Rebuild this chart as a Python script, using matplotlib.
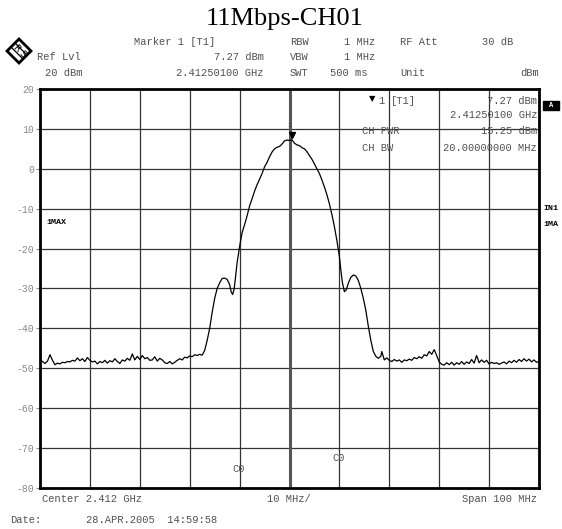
import matplotlib
matplotlib.use('Agg')
import matplotlib.pyplot as plt
import matplotlib.patches as mpatches

W, H = 562, 529

# trace: offset from centre (MHz) and level (dBm)
left_f = [-50.0, -49.5, -49.0, -48.5, -48.0, -47.5, -47.0, -46.5, -46.0, -45.5,
          -45.0, -44.5, -44.0, -43.5, -43.0, -42.5, -42.0, -41.5, -41.0, -40.5,
          -40.0, -39.5, -39.0, -38.5, -38.0, -37.5, -37.0, -36.5, -36.0, -35.5,
          -35.0, -34.5, -34.0, -33.5, -33.0, -32.5, -32.0, -31.5, -31.0, -30.5,
          -30.0, -29.5, -29.0, -28.5, -28.0, -27.5, -27.0, -26.5, -26.0, -25.5,
          -25.0, -24.5, -24.0, -23.5, -23.0, -22.5, -22.0, -21.5, -21.0, -20.5,
          -20.0, -19.5, -19.0, -18.5, -18.0, -17.5]
left_db = [-47.9, -48.3, -48.8, -48.2, -46.6, -48.0, -49.1, -48.7, -48.9, -48.5,
           -48.6, -48.3, -48.4, -48.0, -48.2, -47.4, -48.1, -47.6, -48.3, -47.3,
           -48.0, -48.4, -48.2, -48.9, -48.3, -48.6, -48.0, -48.7, -48.1, -48.4,
           -47.6, -48.3, -48.8, -47.9, -48.2, -47.5, -48.0, -46.4, -47.9, -47.0,
           -47.8, -46.8, -47.6, -47.3, -48.0, -47.9, -47.1, -48.2, -47.5, -47.9,
           -48.6, -48.8, -48.3, -48.9, -48.5, -48.0, -47.6, -47.9, -47.2, -47.4,
           -46.9, -47.1, -46.6, -46.8, -46.5, -46.7]

main_f = [-17.0, -16.5, -16.0, -15.5, -15.0, -14.5, -14.0, -13.5, -13.0, -12.5,
          -12.0, -11.7, -11.4, -11.1, -10.8, -10.5, -10.0, -9.5, -9.0, -8.5,
          -8.0, -7.5, -7.0, -6.5, -6.0, -5.5, -5.0, -4.5, -4.0, -3.5,
          -3.0, -2.5, -2.0, -1.5, -1.0, -0.5, 0.0, 0.5, 1.0, 1.5,
          2.0, 2.5, 3.0, 3.5, 4.0, 4.5, 5.0, 5.5, 6.0, 6.5,
          7.0, 7.5, 8.0, 8.5, 9.0, 9.5, 10.0, 10.3, 10.6, 11.0,
          11.4, 11.8, 12.3, 12.8, 13.3, 13.8, 14.3, 14.8, 15.3, 15.8,
          16.3, 16.8, 17.3, 17.8, 18.3]
main_db = [-45.5, -43.0, -40.0, -36.0, -32.5, -30.0, -28.6, -27.5, -27.4, -27.7,
           -29.0, -30.8, -31.5, -30.2, -27.0, -23.5, -19.5, -16.0, -14.0, -11.8,
           -9.3, -7.5, -5.6, -4.0, -2.6, -1.2, 0.5, 1.6, 3.0, 4.2,
           5.0, 5.4, 5.6, 6.2, 7.0, 7.2, 7.1, 7.27, 6.4, 6.0,
           5.8, 5.3, 5.0, 4.3, 3.3, 2.4, 1.2, 0.0, -1.2, -2.8,
           -4.6, -6.5, -8.8, -11.5, -14.5, -18.0, -22.0, -25.5, -28.5, -30.8,
           -30.3, -28.6, -27.2, -26.6, -26.9, -28.0, -30.0, -32.5, -35.5, -39.5,
           -43.0, -45.8, -47.0, -47.5, -47.0]

right_f = [18.5, 19.0, 19.5, 20.0, 20.5, 21.0, 21.5, 22.0, 22.5, 23.0,
           23.5, 24.0, 24.5, 25.0, 25.5, 26.0, 26.5, 27.0, 27.5, 28.0,
           28.5, 29.0, 29.5, 30.0, 30.5, 31.0, 31.5, 32.0, 32.5, 33.0,
           33.5, 34.0, 34.5, 35.0, 35.5, 36.0, 36.5, 37.0, 37.5, 38.0,
           38.5, 39.0, 39.5, 40.0, 40.5, 41.0, 41.5, 42.0, 42.5, 43.0,
           43.5, 44.0, 44.5, 45.0, 45.5, 46.0, 46.5, 47.0, 47.5, 48.0,
           48.5, 49.0, 49.5, 50.0]
right_db = [-45.8, -47.9, -47.4, -48.0, -48.3, -47.8, -48.2, -47.9, -48.5, -47.9,
            -48.1, -47.7, -48.0, -47.3, -47.6, -47.1, -47.5, -46.6, -46.9, -45.8,
            -46.5, -45.3, -46.8, -48.4, -49.0, -49.2, -48.6, -49.1, -48.5, -49.2,
            -48.6, -49.0, -48.3, -49.0, -48.4, -48.8, -47.8, -48.7, -46.8, -48.6,
            -47.9, -48.5, -48.0, -48.9, -48.5, -48.8, -48.6, -49.0, -48.7, -48.4,
            -48.9, -48.2, -48.6, -48.0, -48.5, -47.8, -48.3, -47.6, -48.2, -47.7,
            -48.4, -47.9, -48.5, -48.3]

freq = left_f + main_f + right_f
level = left_db + main_db + right_db

y_ticks = [20, 10, 0, -10, -20, -30, -40, -50, -60, -70, -80]
marker_f, marker_db = 0.5, 7.27

mono = 'Liberation Mono'
txt = '#505050'

fig = plt.figure(figsize=(W / 100, H / 100), dpi=100)
fig.patch.set_facecolor('white')


def px(x, y):
    return x / W, 1 - y / H


def ftext(x, y, s, ha='left', **kw):
    kw.setdefault('family', mono)
    kw.setdefault('fontsize', 7.5)
    kw.setdefault('color', txt)
    fig.text(*px(x, y), s, ha=ha, va='center', **kw)


x0, x1, y0, y1 = 40, 539, 89, 488
ax = fig.add_axes([x0 / W, 1 - y1 / H, (x1 - x0) / W, (y1 - y0) / H])
ax.set_xlim(-50, 50)
ax.set_ylim(-80, 20)
ax.set_xticks(range(-50, 51, 10))
ax.set_yticks(y_ticks)
ax.set_xticklabels([])
ax.set_yticklabels([str(v) for v in y_ticks], family=mono, fontsize=7, color='#888888')
ax.tick_params(axis='x', length=0)
ax.tick_params(axis='y', length=3, color='#888888', pad=1)
ax.grid(True, color='#333333', lw=0.9)
ax.axvline(0, color='#555555', lw=2.2)
for s in ax.spines.values():
    s.set_linewidth(2)
    s.set_color('black')

ax.plot(freq, level, color='black', lw=0.9)
ax.plot([marker_f], [marker_db + 1.2], marker='v', color='black', ms=5)
ax.text(marker_f - 0.5, marker_db + 3.2, '1', family=mono, fontsize=5, color=txt, ha='center')

# title
fig.text(*px(285, 19), '11Mbps-CH01', family='Liberation Serif', fontsize=19,
         ha='center', va='center')

# header rows
ftext(134, 42, 'Marker 1 [T1]')
ftext(290, 42, 'RBW')
ftext(375, 42, '1 MHz', ha='right')
ftext(400, 42, 'RF Att')
ftext(513, 42, '30 dB', ha='right')
ftext(37, 57, 'Ref Lvl')
ftext(264, 57, '7.27 dBm', ha='right')
ftext(290, 57, 'VBW')
ftext(375, 57, '1 MHz', ha='right')
ftext(45, 73, '20 dBm')
ftext(264, 73, '2.41250100 GHz', ha='right')
ftext(290, 73, 'SWT')
ftext(330, 73, '500 ms')
ftext(400, 73, 'Unit')
ftext(539, 73, 'dBm', ha='right')

# marker info inside the plot
ftext(369, 99, '\u25bc', fontsize=6, color='black', family='DejaVu Sans')
ftext(378, 101, '1')
ftext(391, 101, '[T1]')
ftext(537, 101, '7.27 dBm', ha='right')
ftext(537, 115, '2.41250100 GHz', ha='right')
ftext(362, 131, 'CH PWR')
ftext(537, 131, '15.25 dBm', ha='right')
ftext(362, 148, 'CH BW')
ftext(537, 148, '20.00000000 MHz', ha='right')

# trace / channel labels
ftext(46, 222, '1MAX', fontsize=6, color='black', weight='bold')
ftext(543, 209, 'IN1', fontsize=6, color='black', weight='bold')
ftext(543, 224, '1MA', fontsize=6, color='black', weight='bold')
fig.patches.append(mpatches.Rectangle(px(543, 110), 16 / W, 9 / H, color='black',
                                      transform=fig.transFigure))
ftext(551, 105.5, 'A', ha='center', fontsize=5, color='white', weight='bold')
ftext(232, 469, 'C0')
ftext(332, 458, 'C0')

# footer
ftext(42, 499, 'Center 2.412 GHz')
ftext(267, 499, '10 MHz/')
ftext(537, 499, 'Span 100 MHz', ha='right')
ftext(10, 520, 'Date:')
ftext(86, 520, '28.APR.2005  14:59:58')

# R&S logo
cx, cy, r = 19, 51, 12
diamond = [px(cx, cy - r), px(cx + r, cy), px(cx, cy + r), px(cx - r, cy)]
fig.patches.append(mpatches.Polygon(diamond, closed=True, fill=False, ec='black', lw=2,
                                    transform=fig.transFigure))
band = [px(cx - 8, cy - 4), px(cx - 4, cy - 8), px(cx + 8, cy + 4), px(cx + 4, cy + 8)]
fig.patches.append(mpatches.Polygon(band, closed=True, fill=False, ec='black', lw=0.9,
                                    transform=fig.transFigure))
fig.text(*px(cx - 3, cy - 3), 'R', fontsize=6.5, rotation=-45, ha='center', va='center')
fig.text(*px(cx + 3, cy + 3), 'S', fontsize=6.5, rotation=-45, ha='center', va='center')

plt.savefig('out.png', dpi=100, facecolor='white')
